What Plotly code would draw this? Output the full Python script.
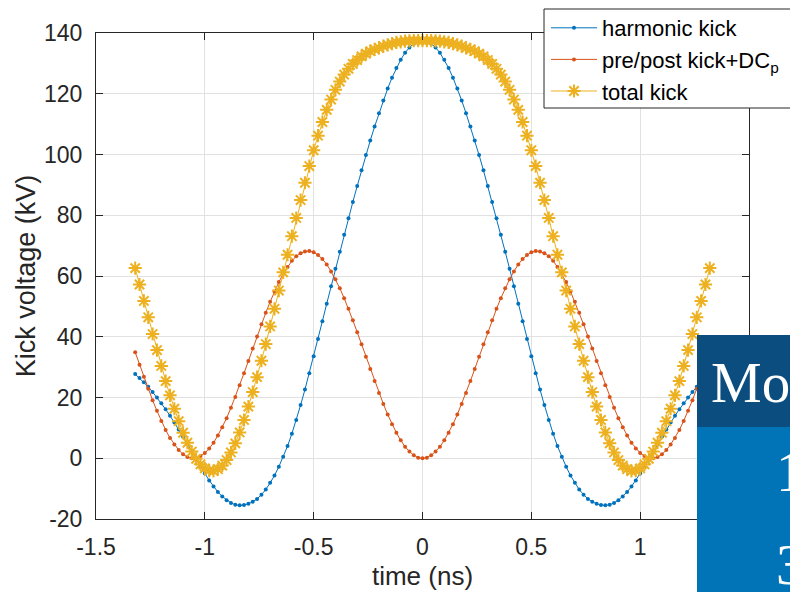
import plotly.graph_objects as go

# time axis (ns)
time_ns = [round(-1.32 + 0.02 * i, 2) for i in range(133)]

harmonic_kick = [27.7, 26.4, 25.0, 23.5, 21.8, 20.0, 18.1, 16.1, 14.0, 11.8, 9.5, 7.1, 4.7, 2.2, -0.3, -2.7, -5.0, -7.3, -9.3, -11.1,
                 -12.6, -13.8, -14.7, -15.3, -15.5, -15.4, -15.0, -14.3, -13.4, -12.0, -10.3, -8.1, -5.7, -2.8, 0.5, 4.0, 8.1, 12.6, 17.5, 22.6,
                 28.0, 33.6, 39.3, 45.1, 50.9, 56.6, 62.4, 68.0, 73.6, 79.0, 84.4, 89.6, 94.8, 99.8, 104.6, 109.2, 113.6, 117.8, 121.7, 125.3,
                 128.5, 131.2, 133.5, 135.2, 136.5, 137.2,
                 137.5,
                 137.2, 136.5, 135.2, 133.5, 131.2, 128.5, 125.3, 121.7, 117.8, 113.6, 109.2, 104.6, 99.8, 94.8, 89.6, 84.4, 79.0, 73.6, 68.0,
                 62.4, 56.6, 50.9, 45.1, 39.3, 33.6, 28.0, 22.6, 17.5, 12.6, 8.1, 4.0, 0.5, -2.8, -5.7, -8.1, -10.3, -12.0, -13.4, -14.3,
                 -15.0, -15.4, -15.5, -15.3, -14.7, -13.8, -12.6, -11.1, -9.3, -7.3, -5.0, -2.7, -0.3, 2.2, 4.7, 7.1, 9.5, 11.8, 14.0, 16.1,
                 18.1, 20.0, 21.8, 23.5, 25.0, 26.4, 27.7]

prepost_kick = [34.9, 30.8, 26.8, 22.9, 19.1, 15.6, 12.3, 9.3, 6.7, 4.5, 2.7, 1.3, 0.4, 0.0, 0.1, 0.7, 1.7, 3.2, 5.1, 7.5,
                10.2, 13.2, 16.6, 20.2, 24.0, 28.0, 32.0, 36.1, 40.1, 44.1, 47.9, 51.5, 54.9, 58.0, 60.7, 63.0, 65.0, 66.5, 67.5, 68.1,
                68.2, 67.8, 66.9, 65.6, 63.8, 61.5, 58.9, 56.0, 52.7, 49.2, 45.4, 41.5, 37.5, 33.4, 29.4, 25.4, 21.5, 17.9, 14.4, 11.2,
                8.4, 5.9, 3.8, 2.2, 1.0, 0.2,
                0.0,
                0.2, 1.0, 2.2, 3.8, 5.9, 8.4, 11.2, 14.4, 17.9, 21.5, 25.4, 29.4, 33.4, 37.5, 41.5, 45.4, 49.2, 52.7, 56.0,
                58.9, 61.5, 63.8, 65.6, 66.9, 67.8, 68.2, 68.1, 67.5, 66.5, 65.0, 63.0, 60.7, 58.0, 54.9, 51.5, 47.9, 44.1, 40.1, 36.1,
                32.0, 28.0, 24.0, 20.2, 16.6, 13.2, 10.2, 7.5, 5.1, 3.2, 1.7, 0.7, 0.1, 0.0, 0.4, 1.3, 2.7, 4.5, 6.7, 9.3,
                12.3, 15.6, 19.1, 22.9, 26.8, 30.8, 34.9]

total_kick = [62.6, 57.2, 51.8, 46.4, 40.9, 35.6, 30.4, 25.4, 20.7, 16.3, 12.2, 8.4, 5.1, 2.2, -0.2, -2.0, -3.3, -4.1, -4.2, -3.6,
              -2.4, -0.6, 1.9, 4.9, 8.5, 12.6, 17.0, 21.8, 26.7, 32.1, 37.6, 43.4, 49.2, 55.2, 61.2, 67.0, 73.1, 79.1, 85.0, 90.7,
              96.2, 101.4, 106.2, 110.7, 114.7, 118.1, 121.3, 124.0, 126.3, 128.2, 129.8, 131.1, 132.3, 133.2, 134.0, 134.6, 135.1, 135.7, 136.1, 136.5,
              136.9, 137.1, 137.3, 137.4, 137.5, 137.5,
              137.5,
              137.5, 137.5, 137.4, 137.3, 137.1, 136.9, 136.5, 136.1, 135.7, 135.1, 134.6, 134.0, 133.2, 132.3, 131.1, 129.8, 128.2, 126.3, 124.0,
              121.3, 118.1, 114.7, 110.7, 106.2, 101.4, 96.2, 90.7, 85.0, 79.1, 73.1, 67.0, 61.2, 55.2, 49.2, 43.4, 37.6, 32.1, 26.7, 21.8,
              17.0, 12.6, 8.5, 4.9, 1.9, -0.6, -2.4, -3.6, -4.2, -4.1, -3.3, -2.0, -0.2, 2.2, 5.1, 8.4, 12.2, 16.3, 20.7, 25.4,
              30.4, 35.6, 40.9, 46.4, 51.8, 57.2, 62.6]

x_ticks = [-1.5, -1, -0.5, 0, 0.5, 1, 1.5]
x_ticktext = ["-1.5", "-1", "-0.5", "0", "0.5", "1", "1.5"]
y_ticks = [-20, 0, 20, 40, 60, 80, 100, 120, 140]
y_ticktext = ["-20", "0", "20", "40", "60", "80", "100", "120", "140"]

BLUE = "#0072BD"
RED = "#D95319"
YELLOW = "#EDB120"
AX = "#262626"
FONT = "Liberation Sans, Arial, Helvetica, sans-serif"

W, H = 790, 592
ML, MR, MT, MB = 96, 41, 33, 73
PW, PH = W - ML - MR, H - MT - MB


def px(xp):
    return (xp - ML) / PW


def py(yp):
    return (H - MB - yp) / PH


fig = go.Figure()
fig.add_trace(go.Scatter(x=time_ns, y=harmonic_kick, mode="lines+markers", name="harmonic kick",
                         line=dict(color=BLUE, width=1), marker=dict(color=BLUE, size=4)))
fig.add_trace(go.Scatter(x=time_ns, y=prepost_kick, mode="lines+markers", name="pre/post kick+DC<sub>p</sub>",
                         line=dict(color=RED, width=1), marker=dict(color=RED, size=4)))
fig.add_trace(go.Scatter(x=time_ns, y=total_kick, mode="lines+markers", name="total kick",
                         line=dict(color=YELLOW, width=1),
                         marker=dict(symbol="asterisk-open", size=11, color=YELLOW,
                                     line=dict(color=YELLOW, width=2))))

# legend frame (extends past the right edge, as in the reference)
fig.add_shape(type="rect", xref="paper", yref="paper", x0=px(544), x1=px(820), y0=py(108), y1=py(9),
              fillcolor="white", line=dict(color=AX, width=1), layer="above")

# overlay panel (slide table fragment)
fig.add_shape(type="rect", xref="paper", yref="paper", x0=px(697), x1=px(800), y0=py(427), y1=py(335),
              fillcolor="#0B4D7E", line=dict(width=0), layer="above")
fig.add_shape(type="rect", xref="paper", yref="paper", x0=px(697), x1=px(800), y0=py(600), y1=py(427),
              fillcolor="#0074B7", line=dict(width=0), layer="above")
SERIF = "Liberation Serif, Times New Roman, serif"
fig.add_annotation(text="Mo", xref="paper", yref="paper", x=px(709), y=py(382), xanchor="left", yanchor="middle",
                   showarrow=False, font=dict(family=SERIF, size=57, color="white"))
fig.add_annotation(text="1", xref="paper", yref="paper", x=px(774), y=py(472), xanchor="left", yanchor="middle",
                   showarrow=False, font=dict(family=SERIF, size=57, color="white"))
fig.add_annotation(text="3", xref="paper", yref="paper", x=px(774), y=py(564), xanchor="left", yanchor="middle",
                   showarrow=False, font=dict(family=SERIF, size=57, color="white"))

axis_common = dict(showline=True, linecolor=AX, linewidth=1, mirror="ticks", ticks="inside", ticklen=7,
                   tickcolor=AX, tickwidth=1, showgrid=True, gridcolor="#e1e1e1", gridwidth=1, zeroline=False,
                   tickfont=dict(family=FONT, size=23, color=AX))

fig.update_layout(
    width=W, height=H,
    margin=dict(l=ML, r=MR, t=MT, b=MB, autoexpand=False),
    paper_bgcolor="white", plot_bgcolor="white",
    font=dict(family=FONT, color=AX),
    xaxis=dict(range=[-1.5, 1.5], tickvals=x_ticks, ticktext=x_ticktext, ticklabelstandoff=7,
               title=dict(text="time (ns)", font=dict(family=FONT, size=26, color=AX), standoff=8),
               **axis_common),
    yaxis=dict(range=[-20, 140], tickvals=y_ticks, ticktext=y_ticktext, ticklabelstandoff=8,
               title=dict(text="Kick voltage (kV)", font=dict(family=FONT, size=27, color=AX), standoff=0),
               **axis_common),
    legend=dict(x=px(545), y=py(6), xanchor="left", yanchor="top", bgcolor="rgba(0,0,0,0)",
                bordercolor="rgba(0,0,0,0)", borderwidth=1, font=dict(family=FONT, size=22, color="#000000"),
                itemwidth=46, tracegroupgap=0),
    showlegend=True,
)

fig.write_html("out.html")
